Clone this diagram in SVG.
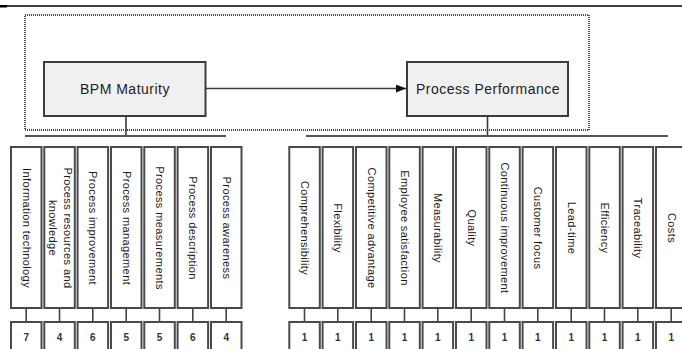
<svg xmlns="http://www.w3.org/2000/svg" width="682" height="349" viewBox="0 0 682 349">
  <defs>
    <style>
      .main { fill: #f0f0f0; stroke: #3c3c3c; stroke-width: 2; }
      .col { fill: #ffffff; stroke: #4a4a4a; stroke-width: 2; }
      .frame { fill: none; stroke: #4a4a4a; stroke-width: 2; stroke-dasharray: 1 1; }
      .wire { fill: none; stroke: #3a3a3a; stroke-width: 1.6; }
      .bar { fill: none; stroke: #555; stroke-width: 2.2; }
      .title { font-family: "Liberation Sans", Arial, sans-serif; font-size: 14px; letter-spacing: 0.5px; fill: #222; text-anchor: middle; }
      .lbl { font-family: "Liberation Sans", Arial, sans-serif; font-size: 11px; letter-spacing: 0.4px; fill: #1a1a1a; text-anchor: middle; }
      .num { font-family: "Liberation Sans", Arial, sans-serif; font-size: 10px; font-weight: bold; fill: #333; text-anchor: middle; }
    </style>
    <marker id="arrow" viewBox="0 0 10 8" refX="10" refY="4" markerWidth="10" markerHeight="8" markerUnits="userSpaceOnUse" orient="auto">
      <path d="M0,0 L10,4 L0,8 Z" fill="#111"/>
    </marker>
  </defs>

  <!-- page rule -->
  <line x1="0" y1="6" x2="682" y2="6" stroke="#000" stroke-width="1.4"/>
  <rect x="0" y="5" width="7" height="2.5" fill="#000"/>

  <!-- dotted frame around the research model -->
  <rect class="frame" x="25" y="15" width="564" height="115"/>

  <g id="connectors">
    <line class="wire" x1="205.5" y1="88.5" x2="406" y2="88.5" marker-end="url(#arrow)"/>
    <line class="wire" x1="126" y1="116" x2="126" y2="136"/>
    <line class="wire" x1="487.5" y1="116" x2="487.5" y2="136"/>
    <line class="bar" x1="25" y1="136" x2="226" y2="136"/>
    <line class="bar" x1="306" y1="136" x2="668" y2="136"/>
    <!-- column to count links -->
    <g stroke="#444" stroke-width="1.6">
      <line x1="26.2" y1="308" x2="26.2" y2="322"/>
      <line x1="59.5" y1="308" x2="59.5" y2="322"/>
      <line x1="92.8" y1="308" x2="92.8" y2="322"/>
      <line x1="126.2" y1="308" x2="126.2" y2="322"/>
      <line x1="159.5" y1="308" x2="159.5" y2="322"/>
      <line x1="192.8" y1="308" x2="192.8" y2="322"/>
      <line x1="226.2" y1="308" x2="226.2" y2="322"/>
      <line x1="304.5" y1="308" x2="304.5" y2="322"/>
      <line x1="337.8" y1="308" x2="337.8" y2="322"/>
      <line x1="371.2" y1="308" x2="371.2" y2="322"/>
      <line x1="404.5" y1="308" x2="404.5" y2="322"/>
      <line x1="437.8" y1="308" x2="437.8" y2="322"/>
      <line x1="471.2" y1="308" x2="471.2" y2="322"/>
      <line x1="504.5" y1="308" x2="504.5" y2="322"/>
      <line x1="537.8" y1="308" x2="537.8" y2="322"/>
      <line x1="571.2" y1="308" x2="571.2" y2="322"/>
      <line x1="604.5" y1="308" x2="604.5" y2="322"/>
      <line x1="637.8" y1="308" x2="637.8" y2="322"/>
      <line x1="671.2" y1="308" x2="671.2" y2="322"/>
    </g>
  </g>

  <g id="bpm-maturity">
    <rect class="main" x="44" y="62" width="161.5" height="54"/>
    <text class="title" x="125" y="93.5">BPM Maturity</text>
  </g>
  <g id="process-performance">
    <rect class="main" x="407" y="62" width="161" height="54"/>
    <text class="title" x="488" y="93.5">Process Performance</text>
  </g>

  <!-- BPM maturity dimensions -->
  <g id="information-technology">
    <rect class="col" x="11" y="147" width="30.5" height="161"/>
    <text class="lbl" transform="translate(26.2,228) rotate(90)" y="3.5">Information technology</text>
  </g>
  <g id="process-resources">
    <rect class="col" x="44.3" y="147" width="30.5" height="161"/>
    <text class="lbl" transform="translate(59.5,228) rotate(90)"><tspan x="0" y="-4.5">Process resources and</tspan><tspan x="0" y="11">knowledge</tspan></text>
  </g>
  <g id="process-improvement">
    <rect class="col" x="77.6" y="147" width="30.5" height="161"/>
    <text class="lbl" transform="translate(92.8,228) rotate(90)" y="3.5">Process improvement</text>
  </g>
  <g id="process-management">
    <rect class="col" x="111" y="147" width="30.5" height="161"/>
    <text class="lbl" transform="translate(126.2,228) rotate(90)" y="3.5">Process management</text>
  </g>
  <g id="process-measurements">
    <rect class="col" x="144.3" y="147" width="30.5" height="161"/>
    <text class="lbl" transform="translate(159.5,228) rotate(90)" y="3.5">Process measurements</text>
  </g>
  <g id="process-description">
    <rect class="col" x="177.6" y="147" width="30.5" height="161"/>
    <text class="lbl" transform="translate(192.8,228) rotate(90)" y="3.5">Process description</text>
  </g>
  <g id="process-awareness">
    <rect class="col" x="211" y="147" width="30.5" height="161"/>
    <text class="lbl" transform="translate(226.2,228) rotate(90)" y="3.5">Process awareness</text>
  </g>

  <!-- process performance dimensions -->
  <g id="comprehensibility">
    <rect class="col" x="289.3" y="147" width="30.5" height="161"/>
    <text class="lbl" transform="translate(304.5,228) rotate(90)" y="3.5">Comprehensibility</text>
  </g>
  <g id="flexibility">
    <rect class="col" x="322.6" y="147" width="30.5" height="161"/>
    <text class="lbl" transform="translate(337.8,228) rotate(90)" y="3.5">Flexibility</text>
  </g>
  <g id="competitive-advantage">
    <rect class="col" x="356" y="147" width="30.5" height="161"/>
    <text class="lbl" transform="translate(371.2,228) rotate(90)" y="3.5">Competitive advantage</text>
  </g>
  <g id="employee-satisfaction">
    <rect class="col" x="389.3" y="147" width="30.5" height="161"/>
    <text class="lbl" transform="translate(404.5,228) rotate(90)" y="3.5">Employee satisfaction</text>
  </g>
  <g id="measurability">
    <rect class="col" x="422.6" y="147" width="30.5" height="161"/>
    <text class="lbl" transform="translate(437.8,228) rotate(90)" y="3.5">Measurability</text>
  </g>
  <g id="quality">
    <rect class="col" x="456" y="147" width="30.5" height="161"/>
    <text class="lbl" transform="translate(471.2,228) rotate(90)" y="3.5">Quality</text>
  </g>
  <g id="continuous-improvement">
    <rect class="col" x="489.3" y="147" width="30.5" height="161"/>
    <text class="lbl" transform="translate(504.5,228) rotate(90)" y="3.5">Continuous improvement</text>
  </g>
  <g id="customer-focus">
    <rect class="col" x="522.6" y="147" width="30.5" height="161"/>
    <text class="lbl" transform="translate(537.8,228) rotate(90)" y="3.5">Customer focus</text>
  </g>
  <g id="lead-time">
    <rect class="col" x="556" y="147" width="30.5" height="161"/>
    <text class="lbl" transform="translate(571.2,228) rotate(90)" y="3.5">Lead-time</text>
  </g>
  <g id="efficiency">
    <rect class="col" x="589.3" y="147" width="30.5" height="161"/>
    <text class="lbl" transform="translate(604.5,228) rotate(90)" y="3.5">Efficiency</text>
  </g>
  <g id="traceability">
    <rect class="col" x="622.6" y="147" width="30.5" height="161"/>
    <text class="lbl" transform="translate(637.8,228) rotate(90)" y="3.5">Traceability</text>
  </g>
  <g id="costs">
    <rect class="col" x="656" y="147" width="30.5" height="161"/>
    <text class="lbl" transform="translate(671.2,228) rotate(90)" y="3.5">Costs</text>
  </g>

  <!-- item counts -->
  <g id="counts">
    <rect class="col" x="11" y="322" width="30.5" height="40"/><text class="num" x="26.2" y="341">7</text>
    <rect class="col" x="44.3" y="322" width="30.5" height="40"/><text class="num" x="59.5" y="341">4</text>
    <rect class="col" x="77.6" y="322" width="30.5" height="40"/><text class="num" x="92.8" y="341">6</text>
    <rect class="col" x="111" y="322" width="30.5" height="40"/><text class="num" x="126.2" y="341">5</text>
    <rect class="col" x="144.3" y="322" width="30.5" height="40"/><text class="num" x="159.5" y="341">5</text>
    <rect class="col" x="177.6" y="322" width="30.5" height="40"/><text class="num" x="192.8" y="341">6</text>
    <rect class="col" x="211" y="322" width="30.5" height="40"/><text class="num" x="226.2" y="341">4</text>
    <rect class="col" x="289.3" y="322" width="30.5" height="40"/><text class="num" x="304.5" y="341">1</text>
    <rect class="col" x="322.6" y="322" width="30.5" height="40"/><text class="num" x="337.8" y="341">1</text>
    <rect class="col" x="356" y="322" width="30.5" height="40"/><text class="num" x="371.2" y="341">1</text>
    <rect class="col" x="389.3" y="322" width="30.5" height="40"/><text class="num" x="404.5" y="341">1</text>
    <rect class="col" x="422.6" y="322" width="30.5" height="40"/><text class="num" x="437.8" y="341">1</text>
    <rect class="col" x="456" y="322" width="30.5" height="40"/><text class="num" x="471.2" y="341">1</text>
    <rect class="col" x="489.3" y="322" width="30.5" height="40"/><text class="num" x="504.5" y="341">1</text>
    <rect class="col" x="522.6" y="322" width="30.5" height="40"/><text class="num" x="537.8" y="341">1</text>
    <rect class="col" x="556" y="322" width="30.5" height="40"/><text class="num" x="571.2" y="341">1</text>
    <rect class="col" x="589.3" y="322" width="30.5" height="40"/><text class="num" x="604.5" y="341">1</text>
    <rect class="col" x="622.6" y="322" width="30.5" height="40"/><text class="num" x="637.8" y="341">1</text>
    <rect class="col" x="656" y="322" width="30.5" height="40"/><text class="num" x="671.2" y="341">1</text>
  </g>
</svg>
